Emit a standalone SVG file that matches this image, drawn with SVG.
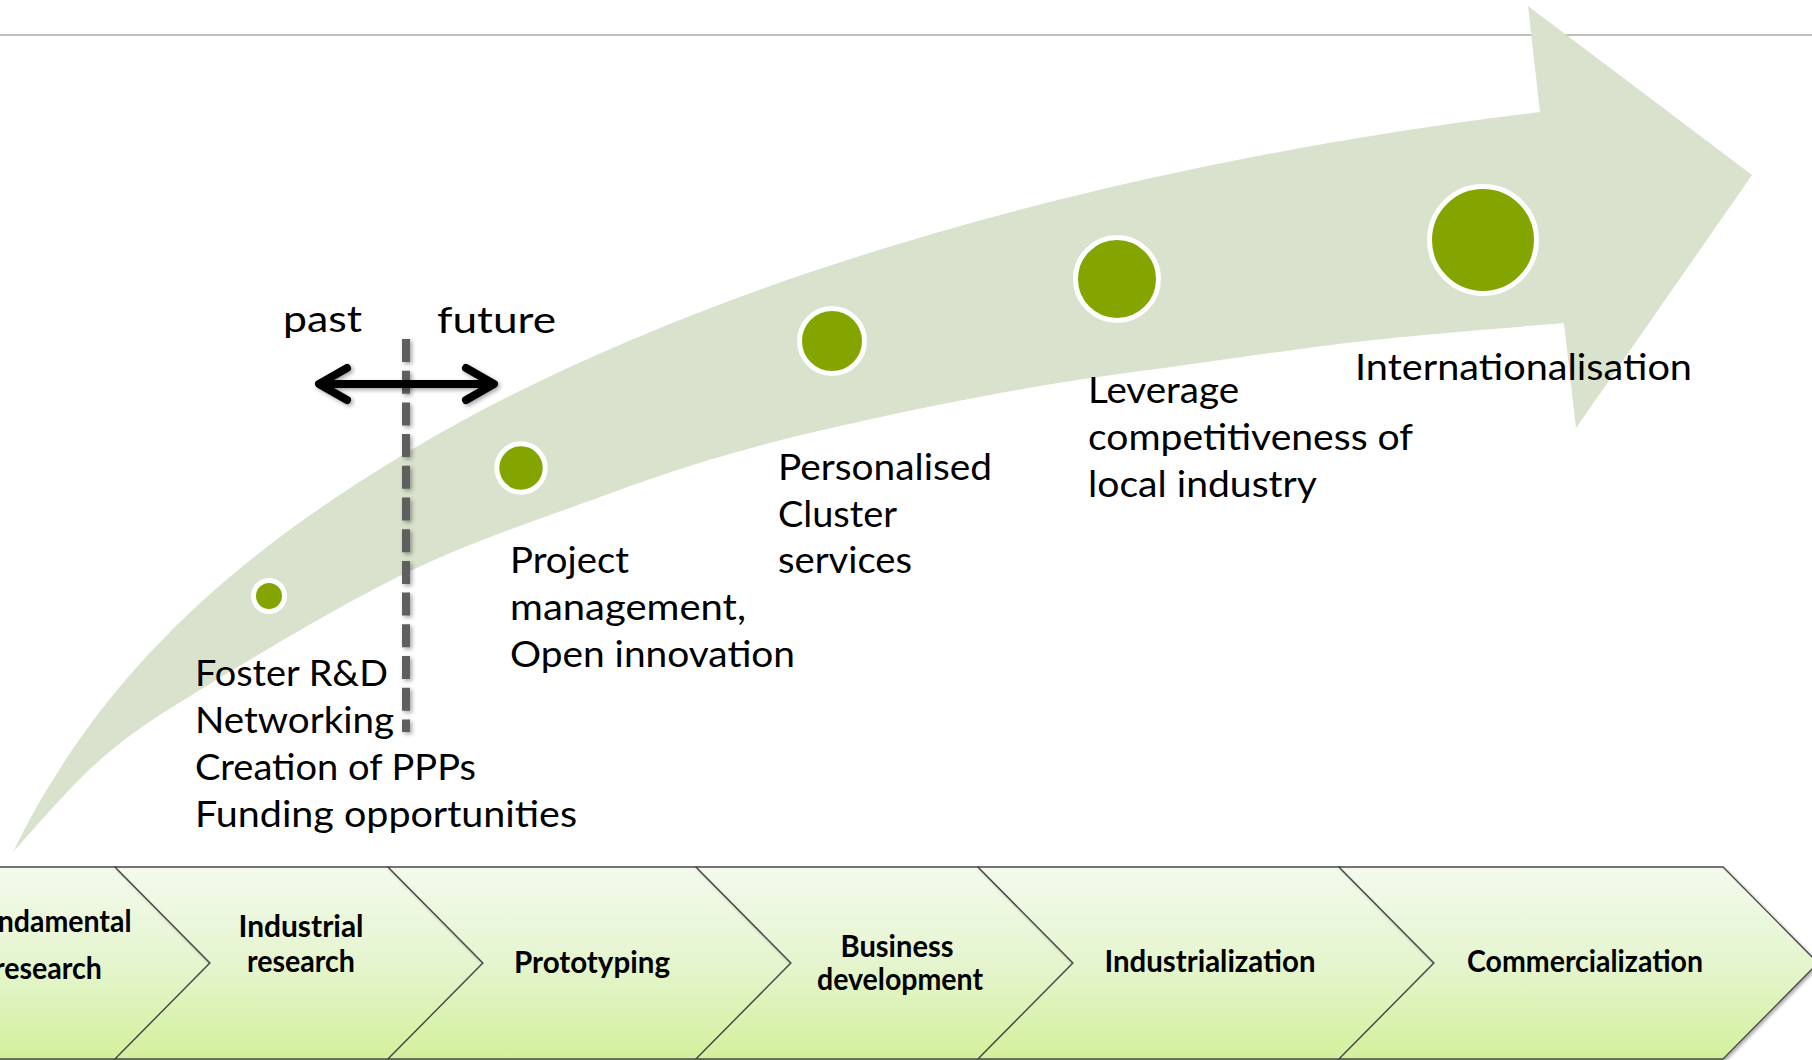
<svg xmlns="http://www.w3.org/2000/svg" width="1812" height="1060" viewBox="0 0 1812 1060">
<style>
.lbl{font-family:Lato,"Open Sans","Liberation Sans",sans-serif;font-size:36px;fill:#000}
.stage{font-family:Lato,"Open Sans","Liberation Sans",sans-serif;font-size:30px;font-weight:700;fill:#000;text-anchor:middle}
.dot{fill:#84a500;stroke:#fff;stroke-width:5}
.chev{fill:url(#chevGrad);stroke:#4a4a4a;stroke-width:1.3;filter:url(#chevShadow)}
</style>
<defs>
<linearGradient id="chevGrad" gradientUnits="userSpaceOnUse" x1="0" y1="867" x2="0" y2="1059">
<stop offset="0" stop-color="#f3faed"/>
<stop offset="0.5" stop-color="#e5f5cf"/>
<stop offset="1" stop-color="#d3f09b"/>
</linearGradient>
<filter id="chevShadow" x="-5%" y="-5%" width="115%" height="115%">
<feDropShadow dx="2" dy="2" stdDeviation="1.5" flood-color="#000" flood-opacity="0.3"/>
</filter>
<filter id="lineShadow" filterUnits="userSpaceOnUse" x="0" y="0" width="1812" height="1060">
<feDropShadow dx="2" dy="2" stdDeviation="2" flood-color="#000" flood-opacity="0.35"/>
</filter>
</defs>
<rect width="1812" height="1060" fill="#fff"/>
<line x1="0" y1="35" x2="1812" y2="35" stroke="#bfbfbf" stroke-width="2"/>

<g id="growth-arrow">
<path fill="#d8e2cc" d="M13,852 C101,672 236,555 406,453 C706,273 1140,160 1540,112 L1528,6 L1752,175 L1576,428 L1564,323 C1532.2,325.8 1432.5,333.5 1373,340 C1313.5,346.5 1262.5,354.3 1207,362 C1151.5,369.7 1096.7,376.3 1040,386 C983.3,395.7 918.2,408.8 867,420 C815.8,431.2 777.5,440.2 733,453 C688.5,465.8 654.5,477 600,497 C545.5,517 472.7,540.8 406,573 C339.3,605.2 251,658.8 200,690 C149,721.2 131.2,733 100,760 C68.8,787 27.5,836.7 13,852 Z"/>
</g>

<g id="connectors">
<line x1="406" y1="339" x2="406" y2="732" stroke="#5f5f5f" stroke-width="8" stroke-dasharray="23 8.7" filter="url(#lineShadow)"/>
<g id="past-future-arrow" fill="none" stroke="#000" stroke-width="8" stroke-linecap="round" stroke-linejoin="round" filter="url(#lineShadow)">
<line x1="320" y1="384" x2="493" y2="384"/>
<polyline points="347,368 319,384 347,400"/>
<polyline points="466,368 494,384 466,400"/>
</g>
</g>

<g id="time-labels">
<text class="lbl" x="283" y="332" textLength="79" lengthAdjust="spacingAndGlyphs">past</text>
<text class="lbl" x="437" y="333" textLength="119" lengthAdjust="spacingAndGlyphs">future</text>
</g>

<g id="milestone-1">
<circle class="dot" cx="269" cy="596" r="15.5" stroke-width="4"/>
<text class="lbl" x="195" y="686" textLength="193" lengthAdjust="spacingAndGlyphs">Foster R&amp;D</text>
<text class="lbl" x="195" y="733" textLength="199" lengthAdjust="spacingAndGlyphs">Networking</text>
<text class="lbl" x="195" y="780" textLength="281" lengthAdjust="spacingAndGlyphs">Creation of PPPs</text>
<text class="lbl" x="195" y="827" textLength="382" lengthAdjust="spacingAndGlyphs">Funding opportunities</text>
</g>

<g id="milestone-2">
<circle class="dot" cx="521" cy="468" r="24.2"/>
<text class="lbl" x="510" y="573" textLength="119" lengthAdjust="spacingAndGlyphs">Project</text>
<text class="lbl" x="510" y="620" textLength="236" lengthAdjust="spacingAndGlyphs">management,</text>
<text class="lbl" x="510" y="667" textLength="285" lengthAdjust="spacingAndGlyphs">Open innovation</text>
</g>

<g id="milestone-3">
<circle class="dot" cx="832" cy="341" r="32.5"/>
<text class="lbl" x="778" y="480" textLength="214" lengthAdjust="spacingAndGlyphs">Personalised</text>
<text class="lbl" x="778" y="527" textLength="119" lengthAdjust="spacingAndGlyphs">Cluster</text>
<text class="lbl" x="778" y="573" textLength="134" lengthAdjust="spacingAndGlyphs">services</text>
</g>

<g id="milestone-4">
<circle class="dot" cx="1117" cy="279" r="41.5"/>
<text class="lbl" x="1088" y="403" textLength="151" lengthAdjust="spacingAndGlyphs">Leverage</text>
<text class="lbl" x="1088" y="450" textLength="325" lengthAdjust="spacingAndGlyphs">competitiveness of</text>
<text class="lbl" x="1088" y="497" textLength="229" lengthAdjust="spacingAndGlyphs">local industry</text>
</g>

<g id="milestone-5">
<circle class="dot" cx="1483" cy="240" r="53.5"/>
<text class="lbl" x="1355" y="380" textLength="337" lengthAdjust="spacingAndGlyphs">Internationalisation</text>
</g>

<g id="stage-fundamental-research">
<polygon class="chev" points="-200,867 115,867 210,963 115,1059 -200,1059"/>
<text class="stage" x="49" y="932" textLength="165" lengthAdjust="spacingAndGlyphs">Fundamental</text>
<text class="stage" x="48" y="979" textLength="108" lengthAdjust="spacingAndGlyphs">research</text>
</g>
<g id="stage-industrial-research">
<polygon class="chev" points="115,867 388,867 483,963 388,1059 115,1059 210,963"/>
<text class="stage" x="301" y="937" textLength="125" lengthAdjust="spacingAndGlyphs">Industrial</text>
<text class="stage" x="301" y="972" textLength="108" lengthAdjust="spacingAndGlyphs">research</text>
</g>
<g id="stage-prototyping">
<polygon class="chev" points="388,867 696,867 791,963 696,1059 388,1059 483,963"/>
<text class="stage" x="592" y="973" textLength="156" lengthAdjust="spacingAndGlyphs">Prototyping</text>
</g>
<g id="stage-business-development">
<polygon class="chev" points="696,867 978,867 1073,963 978,1059 696,1059 791,963"/>
<text class="stage" x="897" y="957" textLength="113" lengthAdjust="spacingAndGlyphs">Business</text>
<text class="stage" x="900" y="990" textLength="166" lengthAdjust="spacingAndGlyphs">development</text>
</g>
<g id="stage-industrialization">
<polygon class="chev" points="978,867 1339,867 1434,963 1339,1059 978,1059 1073,963"/>
<text class="stage" x="1210" y="972" textLength="211" lengthAdjust="spacingAndGlyphs">Industrialization</text>
</g>
<g id="stage-commercialization">
<polygon class="chev" points="1339,867 1723,867 1818,963 1723,1059 1339,1059 1434,963"/>
<text class="stage" x="1585" y="972" textLength="236" lengthAdjust="spacingAndGlyphs">Commercialization</text>
</g>
</svg>
